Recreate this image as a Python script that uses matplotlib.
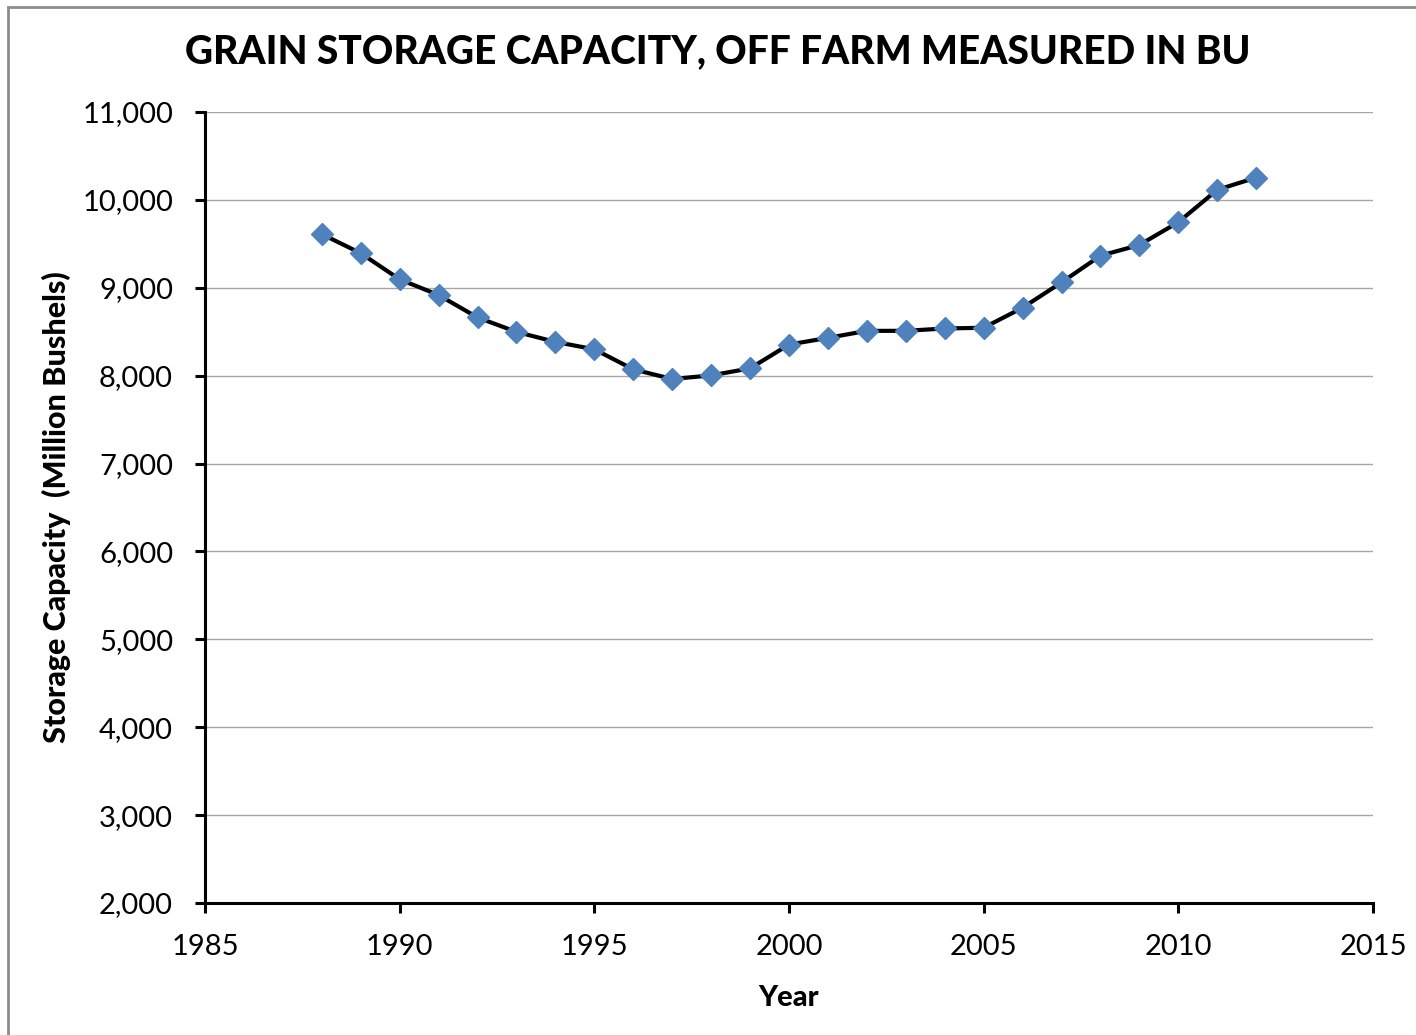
import matplotlib.pyplot as plt
from matplotlib.patches import Rectangle
from matplotlib.ticker import FuncFormatter

# Off-farm grain storage capacity, million bushels
years = [1988, 1989, 1990, 1991, 1992, 1993, 1994, 1995, 1996, 1997, 1998, 1999,
         2000, 2001, 2002, 2003, 2004, 2005, 2006, 2007, 2008, 2009, 2010, 2011, 2012]
capacity = [9610, 9393, 9096, 8917, 8662, 8498, 8384, 8300, 8072, 7962, 8003, 8083,
            8354, 8430, 8510, 8510, 8537, 8545, 8773, 9061, 9365, 9487, 9746, 10114, 10254]

plt.rcParams['font.family'] = ['Lato', 'DejaVu Sans']

fig = plt.figure(figsize=(14.16, 10.35), dpi=100)
ax = fig.add_axes([0.1448, 0.1275, 0.8248, 0.7643])

# thin grey frame round the chart area
fig.patches.append(Rectangle((8 / 1416, -0.05), 1.2, 1 - 7 / 1035 + 0.05,
                             transform=fig.transFigure, fill=False,
                             edgecolor='#8c8c8c', linewidth=2))

ax.plot(years, capacity, color='black', linewidth=3, marker='D',
        markersize=11, markerfacecolor='#4F81BD', markeredgecolor='#4F81BD',
        zorder=3)

ax.set_xlim(1985, 2015)
ax.set_ylim(2000, 11000)
ax.set_xticks(range(1985, 2016, 5))
ax.set_yticks(range(2000, 11001, 1000))
ax.yaxis.set_major_formatter(FuncFormatter(lambda v, p: f'{int(v):,}'))

ax.grid(axis='y', color='#a6a6a6', linewidth=1)
ax.set_axisbelow(True)

for side in ['top', 'right']:
    ax.spines[side].set_visible(False)
for side in ['left', 'bottom']:
    ax.spines[side].set_linewidth(2.2)

ax.tick_params(axis='both', direction='out', length=7, width=2.2,
               labelsize=21)
ax.tick_params(axis='y', pad=16)
ax.tick_params(axis='x', pad=15)

ax.set_xlabel('Year', fontsize=21, fontweight='black', labelpad=18)
ax.set_ylabel('Storage Capacity  (Million Bushels)', fontsize=22,
              fontweight='black', labelpad=8)

fig.text(0.507, 0.95, 'GRAIN STORAGE CAPACITY, OFF FARM MEASURED IN BU',
         ha='center', va='center', fontsize=28, fontweight='black')

plt.savefig('out.png', dpi=100)
plt.close()
